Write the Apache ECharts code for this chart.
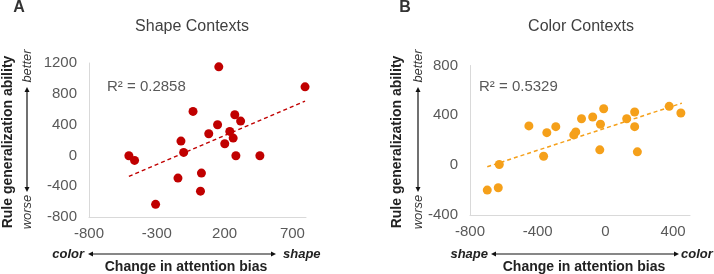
<!DOCTYPE html>
<html>
<head>
<meta charset="utf-8">
<script src="https://cdn.jsdelivr.net/npm/echarts@6/dist/echarts.min.js"></script>
<style>
  html, body { margin: 0; padding: 0; background: #fff; }
  #chart { width: 714px; height: 274px; }
</style>
</head>
<body>
<div id="chart"></div>
<script>
// Panel A - shape contexts: [change in attention bias, rule generalization]
const shapePoints = [
  [157, 1150], [793, 890], [-33, 571], [275, 528], [318, 446],
  [148, 398], [83, 281], [238, 312], [263, 225], [201, 152],
  [-122, 186], [-102, 39], [-506, -4], [-464, -65], [283, -4],
  [460, -4], [29, -230], [-144, -295], [22, -464], [-309, -636]
]
const shapeTrend = [[-506, -273], [793, 705]]
const shapeR2 = 'R² = 0.2858'
const shapeXTicks = [-800, -300, 200, 700]
const shapeYTicks = [-800, -400, 0, 400, 800, 1200]

// Panel B - color contexts
const colorPoints = [
  [-698, -200], [-633, -181], [-627, 5], [-452, 315], [-365, 72],
  [-346, 261], [-293, 309], [-187, 243], [-175, 267], [-141, 373],
  [-75, 387], [-29, 328], [-10, 453], [-33, 123], [126, 373],
  [173, 427], [173, 309], [189, 107], [377, 472], [446, 419]
]
const colorTrend = [[-698, -13], [452, 498]]
const colorR2 = 'R² = 0.5329'
const colorXTicks = [-800, -400, 0, 400]
const colorYTicks = [-400, 0, 400, 800]

const FONT = "'Liberation Sans', Arial, Helvetica, sans-serif"
const red = '#C00000'
const orange = '#F5A01A'
const labelGray = '#595959'

function xAxisOf(idx, min, max, interval, ticks) {
  return {
    gridIndex: idx, type: 'value', min: min, max: max, interval: interval,
    splitLine: { show: false },
    axisTick: { show: false },
    axisLine: { onZero: false, lineStyle: { color: '#d9d9d9', width: 1 } },
    axisLabel: { customValues: ticks, formatter: v => String(v), margin: 9,
      color: labelGray, fontSize: 15, fontFamily: FONT }
  }
}
function yAxisOf(idx, min, max, interval, ticks) {
  return {
    gridIndex: idx, type: 'value', min: min, max: max, interval: interval,
    splitLine: { show: false },
    axisTick: { show: false },
    axisLine: { show: true, onZero: false, lineStyle: { color: '#d9d9d9', width: 1 } },
    axisLabel: { customValues: ticks, formatter: v => String(v), margin: 12,
      color: labelGray, fontSize: 15, fontFamily: FONT }
  }
}

function txt(x, y, s, opts) {
  return {
    type: 'text', x: x, y: y,
    style: Object.assign({
      text: s, fontFamily: FONT, fill: '#222', align: 'center', verticalAlign: 'middle'
    }, opts || {})
  }
}
function arrow(x1, y1, x2, y2) {
  // double-headed arrow
  const dx = x2 - x1, dy = y2 - y1
  const len = Math.sqrt(dx * dx + dy * dy)
  const ux = dx / len, uy = dy / len
  const px = -uy, py = ux
  const h = 5, w = 2.5
  return [
    { type: 'line', shape: { x1: x1 + ux * 2, y1: y1 + uy * 2, x2: x2 - ux * 2, y2: y2 - uy * 2 },
      style: { stroke: '#111', lineWidth: 1.2 } },
    { type: 'polygon', shape: { points: [[x2, y2], [x2 - ux * h + px * w, y2 - uy * h + py * w], [x2 - ux * h - px * w, y2 - uy * h - py * w]] },
      style: { fill: '#111' } },
    { type: 'polygon', shape: { points: [[x1, y1], [x1 + ux * h + px * w, y1 + uy * h + py * w], [x1 + ux * h - px * w, y1 + uy * h - py * w]] },
      style: { fill: '#111' } }
  ]
}

function panelText(o) {
  const els = []
  els.push(txt(o.letterX, 8, o.letter, { fontSize: 16, fontWeight: 'bold', fill: '#333' }))
  els.push(txt(o.titleX, 27, o.title, { fontSize: 16, fill: '#404040' }))
  els.push(txt(o.r2X, 87, o.r2, { fontSize: 15, fill: labelGray, align: 'left' }))
  // y axis title (rotated)
  els.push({ type: 'text', x: o.yTitleX, y: 142, rotation: Math.PI / 2,
    style: { text: 'Rule generalization ability', fontFamily: FONT, fontSize: 14, fontWeight: 'bold',
      fill: '#222', align: 'center', verticalAlign: 'middle' } })
  els.push({ type: 'text', x: o.arrowX, y: 66, rotation: Math.PI / 2,
    style: { text: 'better', fontFamily: FONT, fontSize: 13, fontStyle: 'italic',
      fill: '#333', align: 'center', verticalAlign: 'middle' } })
  els.push({ type: 'text', x: o.arrowX, y: 212, rotation: Math.PI / 2,
    style: { text: 'worse', fontFamily: FONT, fontSize: 13, fontStyle: 'italic',
      fill: '#333', align: 'center', verticalAlign: 'middle' } })
  arrow(o.arrowX, 87, o.arrowX, 192).forEach(e => els.push(e))
  // x axis annotations
  els.push(txt(o.leftWordX, 254, o.leftWord, { fontSize: 13, fontWeight: 'bold', fontStyle: 'italic', align: 'right' }))
  els.push(txt(o.rightWordX, 254, o.rightWord, { fontSize: 13, fontWeight: 'bold', fontStyle: 'italic', align: 'left' }))
  arrow(o.hArrow[0], 254, o.hArrow[1], 254).forEach(e => els.push(e))
  els.push(txt(o.xTitleX, 267, 'Change in attention bias', { fontSize: 14, fontWeight: 'bold' }))
  return els
}

const chart = echarts.init(document.getElementById('chart'))
const option = {
  animation: false,
  backgroundColor: '#fff',
  grid: [
    { left: 89, top: 63, width: 217, height: 154 },
    { left: 470, top: 65.5, width: 220, height: 149.5 }
  ],
  xAxis: [
    xAxisOf(0, -800, 800, 500, shapeXTicks),
    xAxisOf(1, -800, 500, 400, colorXTicks)
  ],
  yAxis: [
    yAxisOf(0, -800, 1200, 400, shapeYTicks),
    yAxisOf(1, -400, 800, 400, colorYTicks)
  ],
  series: [
    { type: 'line', xAxisIndex: 0, yAxisIndex: 0, data: shapeTrend, symbol: 'none', silent: true,
      lineStyle: { color: red, width: 1.5, type: [4, 3] }, z: 1 },
    { type: 'scatter', xAxisIndex: 0, yAxisIndex: 0, data: shapePoints, symbolSize: 9,
      itemStyle: { color: red, opacity: 1 }, z: 2 },
    { type: 'line', xAxisIndex: 1, yAxisIndex: 1, data: colorTrend, symbol: 'none', silent: true,
      lineStyle: { color: orange, width: 1.5, type: [4, 3] }, z: 1 },
    { type: 'scatter', xAxisIndex: 1, yAxisIndex: 1, data: colorPoints, symbolSize: 9,
      itemStyle: { color: orange, opacity: 1 }, z: 2 }
  ],
  graphic: panelText({
    letter: 'A', letterX: 19, title: 'Shape Contexts', titleX: 192, r2: shapeR2, r2X: 107,
    yTitleX: 8, arrowX: 27, leftWord: 'color', leftWordX: 84, rightWord: 'shape', rightWordX: 283,
    hArrow: [88, 276], xTitleX: 186
  }).concat(panelText({
    letter: 'B', letterX: 405, title: 'Color Contexts', titleX: 581, r2: colorR2, r2X: 479,
    yTitleX: 397, arrowX: 418, leftWord: 'shape', leftWordX: 488, rightWord: 'color', rightWordX: 681,
    hArrow: [491, 679], xTitleX: 584
  }))
}
chart.setOption(option)
</script>
</body>
</html>
